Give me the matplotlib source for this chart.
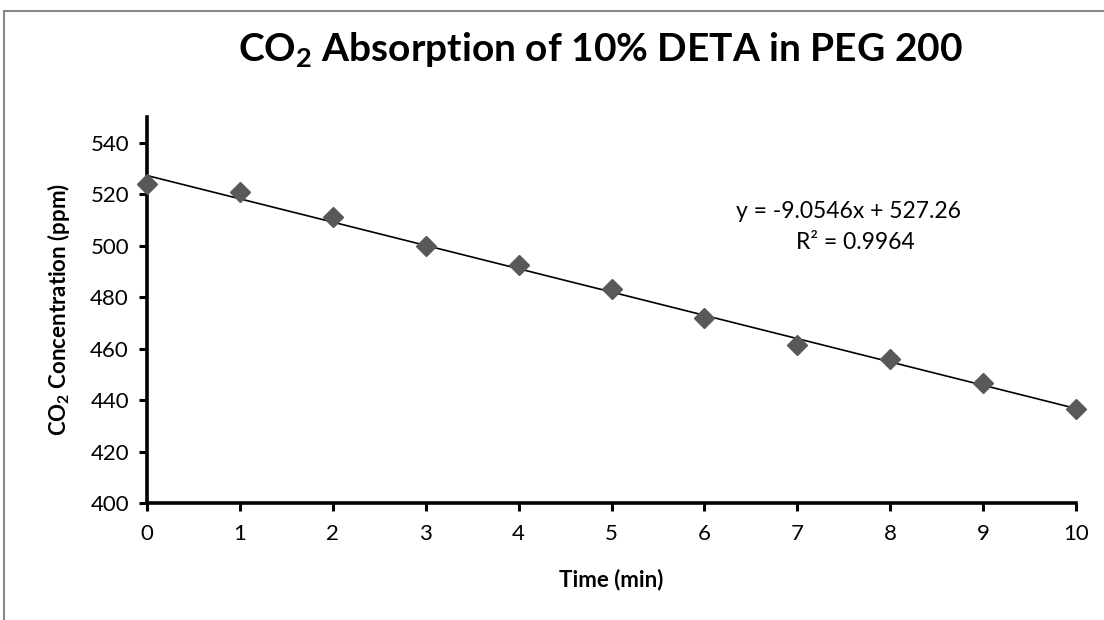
import matplotlib.pyplot as plt
from matplotlib.patches import Rectangle

plt.rcParams['font.family'] = ['Lato', 'DejaVu Sans']
plt.rcParams['mathtext.fontset'] = 'custom'
plt.rcParams['mathtext.rm'] = 'Lato'
plt.rcParams['mathtext.bf'] = 'Lato:bold'

# data
time_min = [0, 1, 2, 3, 4, 5, 6, 7, 8, 9, 10]
co2_ppm = [524, 521, 511, 500, 492.5, 483, 472, 461.5, 456, 446.5, 436.5]
slope = -9.0546
intercept = 527.26
r_squared = 0.9964
y_ticks = [400, 420, 440, 460, 480, 500, 520, 540]

W, H = 1104, 620
fig = plt.figure(figsize=(W / 100, H / 100), dpi=100)
ax = fig.add_axes([147 / W, 1 - 503 / H, (1076 - 147) / W, (503 - 117) / H])

# trendline from the equation shown
fit_y = [slope * t + intercept for t in time_min]
ax.plot(time_min, fit_y, color='black', lw=1.2, zorder=2)
ax.plot(time_min, co2_ppm, ls='none', marker='D', ms=10, color='#595959',
        zorder=5, clip_on=False)

ax.set_xlim(0, 10)
ax.set_ylim(400, 550)
ax.set_xticks(time_min)
ax.set_yticks(y_ticks)
ax.tick_params(labelsize=16, width=2.2, length=6, direction='out')
ax.tick_params(axis='x', pad=9)
ax.tick_params(axis='y', pad=7)
for s in ['top', 'right']:
    ax.spines[s].set_visible(False)
for s in ['left', 'bottom']:
    ax.spines[s].set_linewidth(2.6)
    ax.spines[s].set_zorder(4)

ax.set_xlabel('Time (min)', fontsize=16, fontweight='bold', va='center')
ax.xaxis.set_label_coords(0.5, (503 - 580) / (503 - 117))
ax.set_ylabel(r'CO$_{\mathbf{2}}$ Concentration (ppm)', fontsize=16,
              fontweight='bold', va='center')
ax.yaxis.set_label_coords((58 - 147) / (1076 - 147), 0.5)

fig.text(600 / W, 1 - 50 / H, r'CO$_{\mathbf{2}}$ Absorption of 10% DETA in PEG 200',
         fontsize=28, fontweight='bold', ha='center', va='center')

fig.text(848 / W, 1 - 212 / H, 'y = %.4fx + %.2f' % (slope, intercept),
         fontsize=16.5, ha='center', va='center')
fig.text(855 / W, 1 - 243 / H, 'R² = %.4f' % r_squared, fontsize=16.5,
         ha='center', va='center')

# outer chart border
fig.patches.append(Rectangle((4 / W, -0.2), 1.2, 1.2 - 11 / H, transform=fig.transFigure,
                             fill=False, ec='#888888', lw=1.5))

fig.savefig('out.png', dpi=100)
